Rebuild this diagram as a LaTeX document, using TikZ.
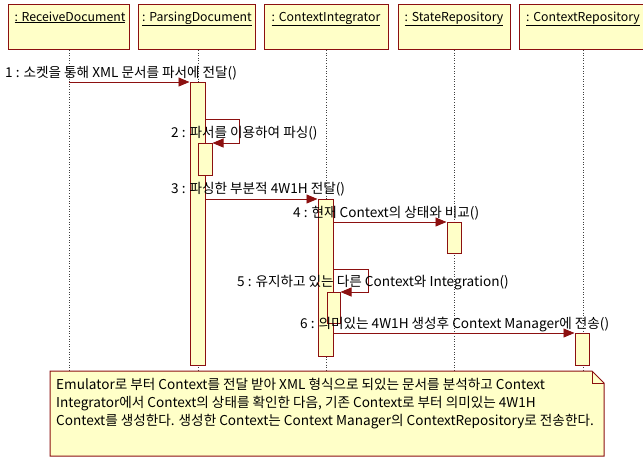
\documentclass[tikz,border=0pt]{standalone}
\usepackage{fontspec}
\setmainfont{Noto Sans CJK KR}
\usetikzlibrary{arrows.meta}
\definecolor{umlline}{RGB}{140,16,16}
\definecolor{umlfill}{RGB}{255,255,200}
\begin{document}
\begin{tikzpicture}[x=1pt,y=-1pt,
  font=\fontsize{13.6}{16}\selectfont,
  head/.style={draw=umlline, fill=umlfill, line width=1pt,
    minimum height=45pt, anchor=north, inner sep=0pt},
  title/.style={inner sep=0pt, anchor=base, font=\fontsize{12.3}{14}\selectfont},
  life/.style={draw=black!75, dotted, line width=0.6pt},
  act/.style={draw=umlline, fill=umlfill, line width=1pt, inner sep=0pt,
    anchor=north},
  msg/.style={draw=umlline, line width=0.9pt,
    -{Triangle[length=11pt,width=9pt]}},
  lbl/.style={inner sep=0pt, anchor=base west},
  notebox/.style={draw=umlline, fill=umlfill, line width=1pt}]
\useasboundingbox (0,0) rectangle (643,459);

% object headers
\node[head, minimum width=121pt] (rd) at (69,4) {};
\node[head, minimum width=117pt] (pd) at (197,4) {};
\node[head, minimum width=124pt] (ci) at (326,4) {};
\node[head, minimum width=112pt] (sr) at (454,4) {};
\node[head, minimum width=128pt] (cr) at (583,4) {};
\node[title] (rdt) at (70,21) {\underline{: ReceiveDocument}};
\node[title] (pdt) at (197,21) {\underline{: ParsingDocument}};
\node[title] (cit) at (326,21) {\underline{: ContextIntegrator}};
\node[title] (srt) at (454,21) {\underline{: StateRepository}};
\node[title] (crt) at (583,21) {\underline{: ContextRepository}};

% lifelines
\coordinate (rde) at (69,372);
\coordinate (pde) at (198,372);
\coordinate (cie) at (326,372);
\coordinate (sre) at (454,372);
\coordinate (cre) at (583,372);
\draw[life] (rd.south) -- (rde);
\draw[life] (pd.south -| pde) -- (pde);
\draw[life] (ci.south) -- (cie);
\draw[life] (sr.south) -- (sre);
\draw[life] (cr.south) -- (cre);

% activations
\node[act, minimum width=15pt, minimum height=283pt] (pa) at (197.5,82) {};
\node[act, minimum width=14pt, minimum height=32pt] (pa2) at (205,143) {};
\node[act, minimum width=15pt, minimum height=157pt] (ca) at (325.5,199) {};
\node[act, minimum width=13pt, minimum height=31pt] (ca2) at (333.5,292) {};
\node[act, minimum width=14pt, minimum height=31pt] (sa) at (454,222) {};
\node[act, minimum width=14pt, minimum height=32pt] (ra) at (582,333) {};

% messages
\draw[msg] (rd.south |- pa.north) -- (pa.north west);
\coordinate (l2a) at (205,119);
\coordinate (l2b) at (239,119);
\draw[msg] (l2a) -- (l2b) -- (l2b |- pa2.north) -- (pa2.north east);
\draw[msg] (pa.east |- ca.north) -- (ca.north west);
\draw[msg] (ca.east |- sa.north) -- (sa.north west);
\coordinate (l5a) at (333,269);
\coordinate (l5b) at (368,269);
\draw[msg] (l5a) -- (l5b) -- (l5b |- ca2.north) -- (ca2.north east);
\draw[msg] (ca.east |- ra.north) -- (ra.north west);

% message labels
\node[lbl] (m1) at (5,77) {1 : 소켓을 통해 XML 문서를 파서에 전달()};
\node[lbl] (m2) at (171,137) {2 : 파서를 이용하여 파싱()};
\node[lbl] (m3) at (171,193) {3 : 파싱한 부분적 4W1H 전달()};
\node[lbl] (m4) at (293,217) {4 : 현재 Context의 상태와 비교()};
\node[lbl] (m5) at (237,286) {5 : 유지하고 있는 다른 Context와 Integration()};
\node[lbl] (m6) at (300,328) {6 : 의미있는 4W1H 생성후 Context Manager에 전송()};

% note
\draw[notebox] (50,371) -- (592,371) -- (604,383) -- (604,456) -- (50,456) -- cycle;
\draw[umlline, line width=1pt] (592,371) -- (592,383) -- (604,383);
\node[lbl] (n1) at (56,389) {Emulator로 부터 Context를 전달 받아 XML 형식으로 되있는 문서를 분석하고 Context};
\node[lbl] (n2) at (56,407) {Integrator에서 Context의 상태를 확인한 다음, 기존 Context로 부터 의미있는 4W1H};
\node[lbl] (n3) at (56,425) {Context를 생성한다. 생성한 Context는 Context Manager의 ContextRepository로 전송한다.};
\end{tikzpicture}
\end{document}
